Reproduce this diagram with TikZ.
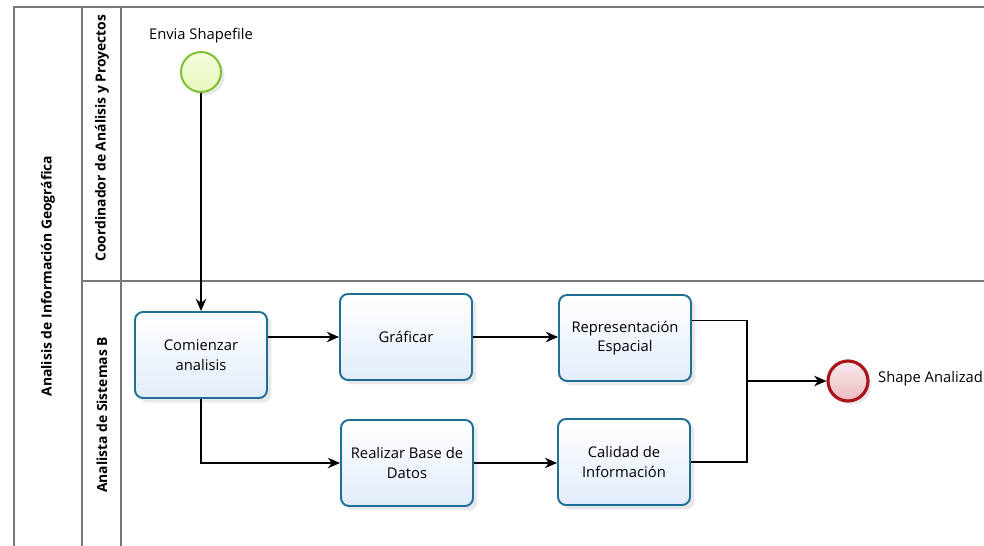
\documentclass[tikz,border=0pt]{standalone}
\usepackage{fontspec}
\setmainfont{Open Sans}
\usetikzlibrary{arrows.meta,shadows}

\definecolor{borde}{RGB}{120,120,120}
\definecolor{tareaborde}{RGB}{30,110,150}
\definecolor{tareafondo}{RGB}{226,236,250}
\definecolor{inicioborde}{RGB}{125,190,45}
\definecolor{iniciofondo}{RGB}{232,248,190}
\definecolor{finborde}{RGB}{170,20,25}
\definecolor{finfondo}{RGB}{235,185,190}

\begin{document}
\begin{tikzpicture}[x=0.02cm, y=-0.02cm, font=\fontsize{8.4}{11.2}\selectfont,
    pista/.style={draw=borde, line width=0.9pt},
    rotulo/.style={rotate=90, font=\fontsize{7.9}{9}\selectfont\bfseries},
    tarea/.style={draw=tareaborde, line width=1.1pt, rounded corners=0.16cm,
        top color=white, bottom color=tareafondo, align=center,
        minimum width=2.64cm, minimum height=1.72cm,
        drop shadow={opacity=0.18, shadow xshift=2.5pt, shadow yshift=-2.5pt}},
    inicio/.style={circle, draw=inicioborde, line width=1.1pt, minimum size=0.8cm,
        top color=iniciofondo!50!white, bottom color=iniciofondo,
        drop shadow={opacity=0.18, shadow xshift=2pt, shadow yshift=-2pt}},
    fin/.style={circle, draw=finborde, line width=1.8pt, minimum size=0.8cm,
        top color=finfondo!30!white, bottom color=finfondo,
        drop shadow={opacity=0.18, shadow xshift=2pt, shadow yshift=-2pt}},
    flujo/.style={draw=black, line width=0.6pt, -{Stealth[length=7pt,width=6pt]}},
    union/.style={draw=black, line width=0.6pt}]
    \useasboundingbox (0,0) rectangle (984,546);

    % pool y carriles
    \draw[pista] (14,546) -- (14,7) -- (984,7);
    \draw[pista] (82,7) -- (82,546);
    \draw[pista] (121,7) -- (121,546);
    \draw[pista] (82,281) -- (984,281);
    \node[rotulo] (pool) at (48,276) {Analisis de Información Geográfica};
    \node[rotulo] (coord) at (102,138) {Coordinador de Análisis y Proyectos};
    \node[rotulo] (analista) at (102,415) {Analista de Sistemas B};

    % eventos
    \node[inicio] (ini) at (201,72) {};
    \node (inilabel) at (201,36) {Envia Shapefile};
    \node[fin] (final) at (848,381) {};
    \node[anchor=west] (finlabel) at (872,379) {Shape Analizad};

    % tareas
    \node[tarea] (com) at (201,355) {Comienzar\\analisis};
    \node[tarea] (gra) at (406,337) {Gráficar};
    \node[tarea] (rep) at (625,338) {Representación\\Espacial};
    \node[tarea] (rbd) at (407,463) {Realizar Base de\\Datos};
    \node[tarea] (cal) at (624,462) {Calidad de\\Información};
    \coordinate (junta) at (747,381);

    % flujos
    \draw[flujo] (ini) -- (com);
    \draw[flujo] (com.east |- gra.west) -- (gra.west);
    \draw[flujo] (gra.east) -- (rep.west |- gra.east);
    \draw[flujo] (com.south) |- (rbd.west);
    \draw[flujo] (rbd.east) -- (cal.west |- rbd.east);
    \draw[union] (rep.15) -| (junta);
    \draw[union] (cal.east) -| (junta);
    \draw[flujo] (junta) -- (final);
\end{tikzpicture}
\end{document}
